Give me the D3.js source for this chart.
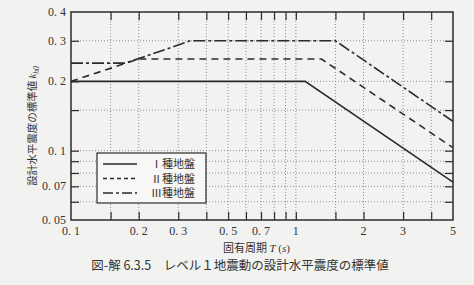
<!DOCTYPE html>
<html>
<head>
<meta charset="utf-8">
<script src="https://cdn.jsdelivr.net/npm/d3@7"></script>
<style>
  body { margin: 0; background: #f2f2f0; }
  svg { display: block; }
  .num { font-family: "Liberation Serif", "DejaVu Serif", serif; font-size: 12px; fill: #333; }
  .jp { font-family: "Noto Sans CJK JP", sans-serif; fill: #333; }
</style>
</head>
<body>
<div class="chart"></div>
<script>
// series: period T (s) -> standard design horizontal seismic coefficient
const type1 = [[0.1, 0.2], [1.1, 0.2], [5, 0.073]];
const type2 = [[0.1, 0.2], [0.2, 0.25], [1.3, 0.25], [5, 0.103]];
const type3 = [[0.1, 0.24], [0.175, 0.24], [0.34, 0.3], [1.5, 0.3], [5, 0.134]];

const xLabels = [0.1, 0.2, 0.3, 0.5, 0.7, 1, 2, 3, 5];
const xGrid = [0.15, 0.2, 0.3, 0.4, 0.5, 0.6, 0.7, 0.8, 0.9, 1, 1.5, 2, 3, 4];
const yLabels = [0.05, 0.07, 0.1, 0.2, 0.3, 0.4];
const yGrid = [0.06, 0.07, 0.08, 0.09, 0.1, 0.15, 0.2, 0.3];
const legendNames = ["Ⅰ種地盤", "Ⅱ種地盤", "Ⅲ種地盤"];

const W = 474, H = 285;
const margin = { top: 12, right: 21, bottom: 65, left: 71 };
const width = W - margin.left - margin.right,
  height = H - margin.top - margin.bottom;

const svg = d3.select(".chart").append("svg")
  .attr("width", W).attr("height", H);

const g = svg.append("g")
  .attr("transform", "translate(" + margin.left + "," + margin.top + ")");

const x = d3.scaleLog().domain([0.1, 5]).range([0, width]);
const y = d3.scaleLog().domain([0.05, 0.4]).range([height, 0]);

const ink = "#2b2b2b";
const fmt = d => String(d).replace(".", ". ");

// grid
g.selectAll(".vgrid").data(xGrid).join("line")
  .attr("x1", d => x(d)).attr("x2", d => x(d))
  .attr("y1", 0).attr("y2", height)
  .attr("stroke", "#777").attr("stroke-width", 0.8).attr("stroke-dasharray", "1,2");
g.selectAll(".hgrid").data(yGrid).join("line")
  .attr("x1", 0).attr("x2", width)
  .attr("y1", d => y(d)).attr("y2", d => y(d))
  .attr("stroke", "#777").attr("stroke-width", 0.8).attr("stroke-dasharray", "1,2");

// inward ticks on all four sides
function styleAxis(sel) {
  sel.select(".domain").remove();
  sel.selectAll(".tick line").attr("stroke", ink).attr("stroke-width", 1.2);
  sel.selectAll(".tick text").remove();
}
g.append("g").attr("transform", `translate(0,${height})`)
  .call(d3.axisBottom(x).tickValues(xGrid).tickSize(-8)).call(styleAxis);
g.append("g")
  .call(d3.axisTop(x).tickValues(xGrid).tickSize(-8)).call(styleAxis);
g.append("g")
  .call(d3.axisLeft(y).tickValues(yGrid).tickSize(-8)).call(styleAxis);
g.append("g").attr("transform", `translate(${width},0)`)
  .call(d3.axisRight(y).tickValues(yGrid).tickSize(-8)).call(styleAxis);

// tick labels
g.selectAll(".xl").data(xLabels).join("text")
  .attr("class", "num")
  .attr("x", d => x(d)).attr("y", height + 15)
  .attr("text-anchor", "middle")
  .text(fmt);
g.selectAll(".yl").data(yLabels).join("text")
  .attr("class", "num")
  .attr("x", -5).attr("y", d => y(d) + 4)
  .attr("text-anchor", "end")
  .text(fmt);

// frame
g.append("rect")
  .attr("width", width).attr("height", height)
  .attr("fill", "none").attr("stroke", ink).attr("stroke-width", 1.5);

// curves
const line = d3.line().x(d => x(d[0])).y(d => y(d[1]));
const series = [
  { data: type1, dash: null },
  { data: type2, dash: "7,5" },
  { data: type3, dash: "12,3,3,3" }
];
g.selectAll(".curve").data(series).join("path")
  .attr("d", d => line(d.data))
  .attr("fill", "none")
  .attr("stroke", ink)
  .attr("stroke-width", 1.6)
  .attr("stroke-dasharray", d => d.dash);

// legend
const lg = g.append("g").attr("transform", "translate(26,141)");
lg.append("rect")
  .attr("width", 109).attr("height", 50)
  .attr("fill", "#f7f7f5").attr("stroke", ink).attr("stroke-width", 1.2);
const legDash = [null, "4,3", "10,3,3,3"];
legendNames.forEach((name, i) => {
  const yy = 11 + i * 14.5;
  lg.append("line")
    .attr("x1", 6).attr("x2", 40).attr("y1", yy).attr("y2", yy)
    .attr("stroke", ink).attr("stroke-width", 1.4)
    .attr("stroke-dasharray", legDash[i]);
  lg.append("text")
    .attr("class", "jp")
    .attr("x", 98).attr("y", yy + 4)
    .attr("text-anchor", "end")
    .attr("font-size", "11px")
    .text(name);
});

// axis titles
const xt = svg.append("text").attr("class", "jp")
  .attr("x", 223).attr("y", 252).attr("font-size", "11px");
xt.append("tspan").text("固有周期 ");
xt.append("tspan").attr("font-family", "Liberation Serif, serif").attr("font-style", "italic").text("T");
xt.append("tspan").attr("font-family", "Liberation Serif, serif").text(" (");
xt.append("tspan").attr("font-family", "Liberation Serif, serif").attr("font-style", "italic").text("s");
xt.append("tspan").attr("font-family", "Liberation Serif, serif").text(")");

const yt = svg.append("text").attr("class", "jp")
  .attr("transform", "translate(36,126) rotate(-90)")
  .attr("text-anchor", "middle")
  .attr("font-size", "10.5px");
yt.append("tspan").text("設計水平震度の標準値 ");
yt.append("tspan").attr("font-family", "Liberation Serif, serif").attr("font-style", "italic").text("k");
yt.append("tspan").attr("font-family", "Liberation Serif, serif").attr("font-style", "italic")
  .attr("font-size", "7.5px").attr("dy", 3).text("h0");

// caption
svg.append("text").attr("class", "jp")
  .attr("x", 240).attr("y", 270)
  .attr("text-anchor", "middle")
  .attr("font-size", "12.5px")
  .text("図-解 6.3.5　レベル１地震動の設計水平震度の標準値");
</script>
</body>
</html>
